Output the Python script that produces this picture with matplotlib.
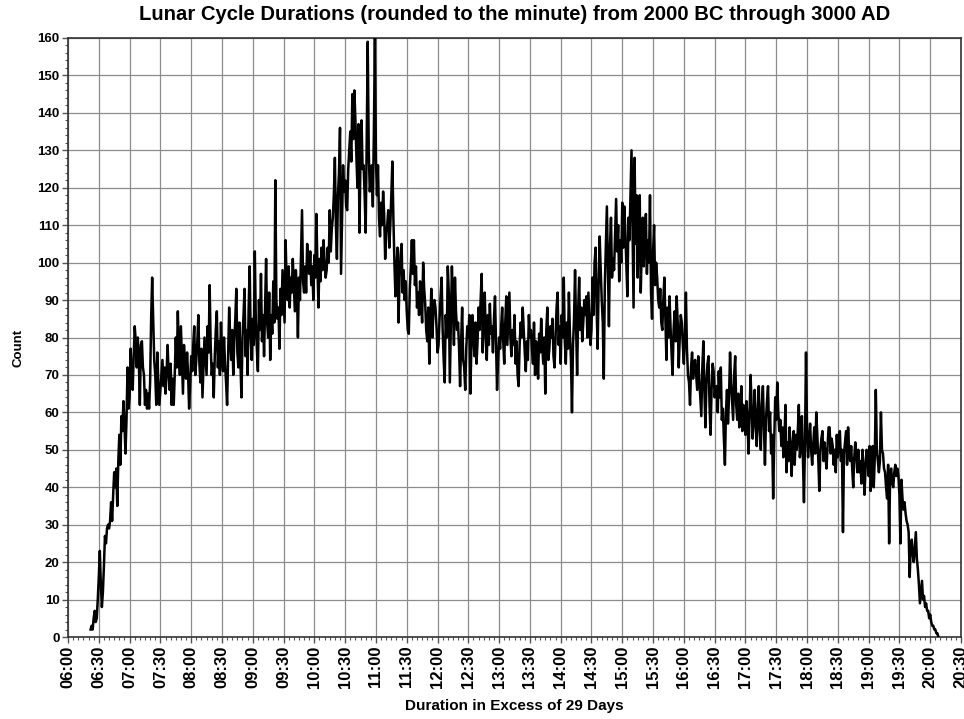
import matplotlib
matplotlib.use("Agg")
import matplotlib.pyplot as plt
import numpy as np

plt.rcParams['font.family'] = ['Liberation Sans', 'DejaVu Sans']
plt.rcParams['font.weight'] = 'bold'

title = "Lunar Cycle Durations (rounded to the minute) from 2000 BC through 3000 AD"
xlabel = "Duration in Excess of 29 Days"
ylabel = "Count"

# first minute of data (minutes after 06:00)
start_minute = 22
counts = [
    2, 3, 2, 5, 7, 4, 5, 10, 16, 23,
    14, 8, 12, 19, 27, 25, 29, 30, 29, 31,
    36, 31, 38, 44, 40, 45, 35, 47, 54, 46,
    59, 55, 63, 57, 49, 58, 72, 61, 64, 77,
    70, 66, 75, 83, 79, 72, 80, 74, 62, 78,
    79, 72, 70, 62, 66, 61, 65, 61, 68, 85,
    96, 85, 74, 70, 62, 76, 68, 62, 66, 70,
    74, 67, 72, 65, 70, 78, 71, 66, 73, 62,
    69, 62, 70, 80, 72, 87, 76, 70, 83, 74,
    65, 78, 72, 69, 76, 70, 61, 67, 75, 71,
    78, 83, 70, 74, 79, 86, 73, 68, 77, 64,
    72, 80, 75, 70, 83, 76, 94, 78, 70, 73,
    64, 75, 82, 87, 72, 79, 70, 84, 76, 71,
    80, 73, 68, 62, 75, 88, 80, 74, 82, 70,
    79, 85, 93, 76, 72, 84, 73, 64, 80, 86,
    93, 75, 82, 70, 88, 99, 80, 74, 85, 78,
    103, 84, 77, 71, 90, 82, 97, 79, 86, 75,
    88, 101, 84, 80, 92, 74, 86, 81, 95, 84,
    122, 90, 85, 88, 77, 93, 86, 98, 91, 84,
    106, 95, 90, 99, 88, 96, 92, 101, 94, 87,
    98, 93, 80, 96, 90, 102, 114, 95, 92, 99,
    92, 105, 100, 97, 103, 94, 99, 90, 102, 96,
    113, 99, 88, 101, 95, 104, 98, 106, 100, 96,
    98, 104, 100, 114, 103, 109, 112, 118, 128, 110,
    101, 118, 124, 136, 97, 112, 126, 119, 122, 115,
    114, 125, 130, 135, 127, 145, 133, 146, 138, 128,
    120, 137, 108, 130, 138, 125, 126, 118, 108, 132,
    159, 130, 119, 122, 126, 115, 135, 160, 128, 118,
    126, 112, 107, 116, 110, 119, 113, 101, 108, 110,
    114, 104, 110, 118, 127, 112, 100, 91, 98, 104,
    84, 96, 102, 105, 92, 98, 90, 95, 87, 82,
    81, 93, 99, 106, 97, 106, 94, 99, 88, 92,
    86, 95, 90, 84, 100, 93, 89, 82, 79, 88,
    73, 85, 93, 80, 87, 90, 88, 83, 76, 78,
    85, 91, 96, 82, 74, 68, 86, 80, 99, 92,
    68, 84, 99, 90, 78, 96, 87, 82, 84, 77,
    67, 79, 88, 74, 72, 66, 77, 83, 80, 86,
    65, 78, 86, 80, 75, 84, 73, 79, 88, 82,
    90, 97, 76, 85, 92, 80, 74, 86, 78, 89,
    81, 83, 76, 85, 91, 79, 66, 74, 80, 77,
    83, 88, 79, 73, 84, 91, 78, 85, 92, 80,
    75, 82, 78, 86, 73, 79, 70, 67, 78, 84,
    80, 88, 82, 76, 71, 79, 74, 86, 80, 82,
    77, 73, 84, 70, 79, 75, 69, 81, 76, 85,
    78, 73, 80, 65, 82, 88, 74, 77, 83, 80,
    85, 75, 72, 80, 88, 92, 78, 83, 73, 86,
    80, 96, 79, 73, 84, 77, 92, 81, 74, 60,
    78, 85, 98, 83, 70, 87, 96, 82, 88, 79,
    84, 90, 86, 91, 80, 92, 85, 78, 82, 96,
    86, 100, 104, 88, 77, 95, 107, 98, 90, 84,
    69, 94, 105, 115, 99, 83, 104, 112, 96, 101,
    98, 108, 117, 103, 110, 95, 106, 100, 116, 104,
    115, 108, 99, 91, 112, 106, 118, 130, 110, 88,
    128, 105, 118, 96, 111, 118, 92, 104, 112, 99,
    108, 113, 97, 106, 100, 118, 92, 85, 103, 110,
    94, 100, 96, 90, 88, 93, 84, 82, 90, 96,
    85, 74, 88, 80, 91, 83, 76, 70, 82, 87,
    79, 91, 84, 72, 80, 86, 84, 78, 73, 81,
    92, 77, 70, 68, 62, 72, 76, 69, 73, 74,
    70, 66, 75, 69, 64, 59, 72, 79, 66, 56,
    68, 73, 75, 62, 54, 66, 73, 71, 64, 67,
    67, 60, 71, 64, 72, 58, 61, 53, 46, 60,
    66, 57, 64, 76, 68, 63, 58, 70, 75, 62,
    58, 65, 56, 60, 67, 55, 62, 59, 54, 63,
    58, 49, 60, 70, 62, 53, 57, 66, 58, 51,
    60, 67, 55, 50, 62, 67, 56, 46, 58, 63,
    67, 55, 60, 49, 54, 37, 52, 64, 58, 68,
    60, 55, 58, 51, 56, 48, 53, 62, 44, 52,
    47, 56, 50, 43, 52, 55, 46, 54, 50, 55,
    62, 48, 51, 59, 47, 36, 52, 76, 55, 48,
    53, 57, 50, 46, 51, 56, 49, 60, 54, 47,
    39, 50, 53, 55, 47, 52, 48, 45, 51, 56,
    56, 49, 53, 51, 46, 50, 44, 54, 48, 52,
    55, 47, 50, 28, 49, 52, 55, 46, 56, 50,
    47, 51, 45, 40, 48, 52, 49, 44, 50, 44,
    47, 41, 50, 46, 38, 45, 50, 48, 43, 51,
    39, 44, 51, 40, 48, 66, 50, 47, 44, 47,
    60, 50, 49, 45, 44, 40, 37, 46, 25, 44,
    45, 41, 40, 44, 46, 43, 45, 43, 38, 25,
    42, 37, 34, 36, 33, 31, 30, 28, 16, 24,
    26, 22, 20, 24, 28, 21, 18, 14, 9, 12,
    15, 10, 11, 8, 9, 7, 7, 5, 6, 4,
    3, 3, 2, 2, 1, 1, 0,
]

x_tick_labels = ["06:00", "06:30", "07:00", "07:30", "08:00", "08:30", "09:00", "09:30",
                 "10:00", "10:30", "11:00", "11:30", "12:00", "12:30", "13:00", "13:30",
                 "14:00", "14:30", "15:00", "15:30", "16:00", "16:30", "17:00", "17:30",
                 "18:00", "18:30", "19:00", "19:30", "20:00", "20:30"]

minutes = np.arange(start_minute, start_minute + len(counts))

W, H = 964, 719
fig = plt.figure(figsize=(W / 100, H / 100), dpi=100)
ax = fig.add_axes([68/W, 1-637/H, (961-68)/W, (637-38)/H])

ax.plot(minutes, counts, color='black', linewidth=1.8, zorder=3)

x_major = np.arange(0, 30 * len(x_tick_labels), 30)
ax.set_xlim(0, x_major[-1])
ax.set_ylim(0, 160)
ax.set_xticks(x_major)
ax.set_xticklabels(x_tick_labels, rotation=90, fontsize=12, fontweight='bold')
ax.set_xticks(np.arange(0, x_major[-1] + 1, 5), minor=True)
ax.set_yticks(np.arange(0, 161, 10))
ax.set_yticks(np.arange(0, 161, 2), minor=True)
for lab in ax.get_yticklabels():
    lab.set_fontsize(9.5)
    lab.set_fontweight('bold')

ax.tick_params(axis='both', which='major', direction='out', length=4, width=1, color='#555555')
ax.tick_params(axis='both', which='minor', direction='out', length=2.5, width=0.8, color='#555555')
ax.tick_params(axis='x', pad=2)
ax.tick_params(axis='y', pad=2)

ax.grid(True, which='major', color='#8c8c8c', linewidth=0.9)
ax.set_axisbelow(True)
for s in ax.spines.values():
    s.set_color('#333333')
    s.set_linewidth(1.2)

fig.text((68 + 961) / 2 / W, 1 - 15 / H, title, fontsize=14.6, fontweight='bold',
         ha='center', va='center')
fig.text((68 + 961) / 2 / W, 1 - 706 / H, xlabel, fontsize=11, fontweight='bold',
         ha='center', va='center')
fig.text(19 / W, 1 - 348 / H, ylabel, fontsize=9.5, fontweight='bold',
         ha='center', va='center', rotation=90)

fig.savefig("out.png", dpi=100)
